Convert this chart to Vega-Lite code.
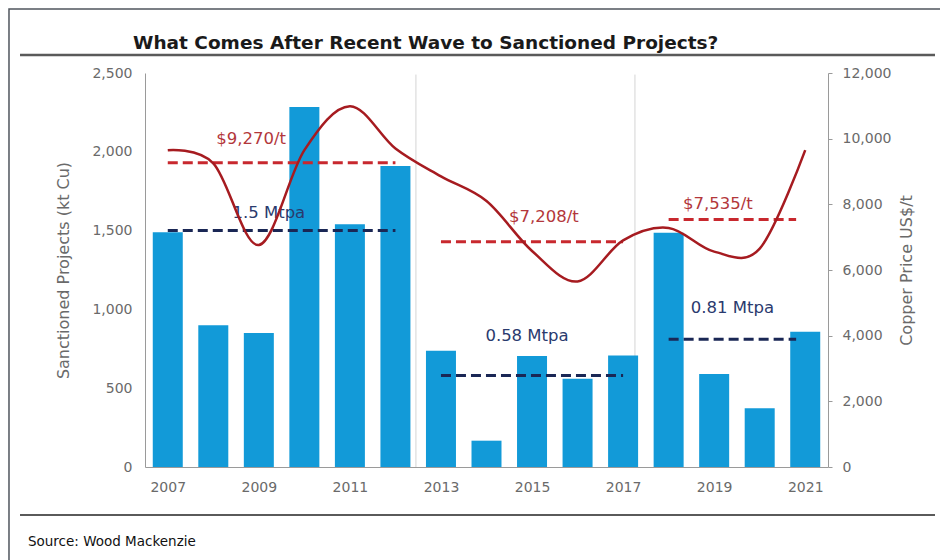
{
  "$schema": "https://vega.github.io/schema/vega-lite/v6.json",
  "width": 683,
  "height": 394,
  "autosize": {"type": "none"},
  "padding": {"left": 145, "top": 73, "right": 112, "bottom": 93},
  "background": "white",
  "config": {
    "view": {"stroke": null},
    "font": "DejaVu Sans",
    "axis": {
      "labelFont": "DejaVu Sans",
      "titleFont": "DejaVu Sans",
      "labelColor": "#6a6a6a",
      "titleColor": "#6a6a6a",
      "labelFontSize": 14,
      "titleFontSize": 16,
      "titleFontWeight": "normal",
      "grid": false,
      "domainColor": "#9a9a9a",
      "tickColor": "#9a9a9a"
    }
  },
  "datasets": {
    "projects": [
      {"year": 2007, "kt": 1490},
      {"year": 2008, "kt": 900},
      {"year": 2009, "kt": 850},
      {"year": 2010, "kt": 2285},
      {"year": 2011, "kt": 1540},
      {"year": 2012, "kt": 1910},
      {"year": 2013, "kt": 738},
      {"year": 2014, "kt": 167},
      {"year": 2015, "kt": 704},
      {"year": 2016, "kt": 560},
      {"year": 2017, "kt": 708},
      {"year": 2018, "kt": 1487},
      {"year": 2019, "kt": 590},
      {"year": 2020, "kt": 372},
      {"year": 2021, "kt": 858}
    ],
    "price": [
      {"year": 2007, "price": 9650},
      {"year": 2008, "price": 9250},
      {"year": 2009, "price": 6760},
      {"year": 2010, "price": 9650},
      {"year": 2011, "price": 10990},
      {"year": 2012, "price": 9700},
      {"year": 2013, "price": 8850},
      {"year": 2014, "price": 8100},
      {"year": 2015, "price": 6580},
      {"year": 2016, "price": 5650},
      {"year": 2017, "price": 6900},
      {"year": 2018, "price": 7280},
      {"year": 2019, "price": 6560},
      {"year": 2020, "price": 6650},
      {"year": 2021, "price": 9650}
    ],
    "periods": [
      {"start": 2007, "end": 2012, "price": 9270, "supply": 1500},
      {"start": 2013, "end": 2017, "price": 6860, "supply": 580},
      {"start": 2018, "end": 2020.8, "price": 7535, "supply": 810}
    ],
    "supplyLabels": [
      {"label": "1.5 Mtpa", "x": 2009.22, "y": 1614},
      {"label": "0.58 Mtpa", "x": 2014.89, "y": 831},
      {"label": "0.81 Mtpa", "x": 2019.4, "y": 1011}
    ],
    "priceLabels": [
      {"label": "$9,270/t", "x": 2008.83, "y": 9991},
      {"label": "$7,208/t", "x": 2015.26, "y": 7624},
      {"label": "$7,535/t", "x": 2019.08, "y": 8011}
    ],
    "separators": [
      {"x": 2012.45},
      {"x": 2017.26}
    ]
  },
  "layer": [
    {
      "layer": [
        {
          "data": {"values": [{}]},
          "mark": {"type": "rect", "fill": null, "stroke": "#50565e", "strokeWidth": 1.5},
          "encoding": {
            "x": {"datum": 2003.513},
            "x2": {"datum": 2024.2},
            "y": {"datum": 2906},
            "y2": {"datum": -620}
          }
        },
        {
          "data": {"name": "separators"},
          "mark": {"type": "rule", "color": "#d4d4d4", "strokeWidth": 1},
          "encoding": {
            "x": {"field": "x", "type": "quantitative"},
            "y": {"datum": 0},
            "y2": {"datum": 2490}
          }
        },
        {
          "data": {"name": "projects"},
          "mark": {"type": "bar", "color": "#129ad8", "size": 30},
          "encoding": {
            "x": {
              "field": "year",
              "type": "quantitative",
              "scale": {"domain": [2006.5, 2021.5], "nice": false, "zero": false, "padding": 0},
              "axis": {
                "title": null,
                "values": [2007, 2009, 2011, 2013, 2015, 2017, 2019, 2021],
                "format": "d",
                "ticks": false,
                "labelPadding": 13
              }
            },
            "y": {
              "field": "kt",
              "type": "quantitative",
              "scale": {"domain": [0, 2500], "nice": false, "padding": 0},
              "axis": {
                "title": "Sanctioned Projects (kt Cu)",
                "values": [0, 500, 1000, 1500, 2000, 2500],
                "format": ",d",
                "ticks": false,
                "labelPadding": 13,
                "titlePadding": 20
              }
            }
          }
        },
        {
          "data": {"name": "periods"},
          "mark": {"type": "rule", "color": "#1a2755", "strokeWidth": 3, "strokeDash": [10, 5]},
          "encoding": {
            "x": {"field": "start", "type": "quantitative"},
            "x2": {"field": "end"},
            "y": {"field": "supply", "type": "quantitative"}
          }
        },
        {
          "data": {"name": "supplyLabels"},
          "mark": {"type": "text", "color": "#2a3a6e", "fontSize": 16.5, "font": "DejaVu Sans"},
          "encoding": {
            "x": {"field": "x", "type": "quantitative"},
            "y": {"field": "y", "type": "quantitative"},
            "text": {"field": "label"}
          }
        },
        {
          "data": {"values": [{"title": "What Comes After Recent Wave to Sanctioned Projects?"}]},
          "mark": {"type": "text", "align": "left", "baseline": "middle", "fontSize": 18.5, "fontWeight": "bold", "font": "DejaVu Sans", "color": "#1a1a1a"},
          "encoding": {
            "x": {"datum": 2006.236},
            "y": {"datum": 2690},
            "text": {"field": "title"}
          }
        },
        {
          "data": {"values": [{}]},
          "mark": {"type": "rule", "color": "#5a5a5a", "strokeWidth": 2.5},
          "encoding": {
            "x": {"datum": 2003.755},
            "x2": {"datum": 2023.85},
            "y": {"datum": 2614}
          }
        },
        {
          "data": {"values": [{}]},
          "mark": {"type": "rule", "color": "#5a5a5a", "strokeWidth": 2},
          "encoding": {
            "x": {"datum": 2003.755},
            "x2": {"datum": 2023.85},
            "y": {"datum": -305}
          }
        },
        {
          "data": {"values": [{"source": "Source: Wood Mackenzie"}]},
          "mark": {"type": "text", "align": "left", "baseline": "middle", "fontSize": 13.5, "font": "DejaVu Sans", "color": "#111111"},
          "encoding": {
            "x": {"datum": 2003.93},
            "y": {"datum": -476},
            "text": {"field": "source"}
          }
        }
      ]
    },
    {
      "layer": [
        {
          "data": {"name": "periods"},
          "mark": {"type": "rule", "color": "#c8282e", "strokeWidth": 3, "strokeDash": [10, 5]},
          "encoding": {
            "x": {"field": "start", "type": "quantitative"},
            "x2": {"field": "end"},
            "y": {
              "field": "price",
              "type": "quantitative",
              "scale": {"domain": [0, 12000], "nice": false, "padding": 0},
              "axis": {
                "orient": "right",
                "title": "Copper Price US$/t",
                "titleAngle": 270,
                "titleBaseline": "top",
                "values": [0, 2000, 4000, 6000, 8000, 10000, 12000],
                "format": ",d",
                "ticks": true,
                "tickSize": 4,
                "labelPadding": 10,
                "titlePadding": 8
              }
            }
          }
        },
        {
          "data": {"name": "priceLabels"},
          "mark": {"type": "text", "color": "#b3373b", "fontSize": 16.5, "font": "DejaVu Sans"},
          "encoding": {
            "x": {"field": "x", "type": "quantitative"},
            "y": {"field": "y", "type": "quantitative"},
            "text": {"field": "label"}
          }
        },
        {
          "data": {"name": "price"},
          "mark": {"type": "line", "color": "#a61b20", "strokeWidth": 2.5, "interpolate": "cardinal"},
          "encoding": {
            "x": {"field": "year", "type": "quantitative"},
            "y": {"field": "price", "type": "quantitative"}
          }
        }
      ]
    }
  ],
  "resolve": {"scale": {"y": "independent"}}
}
